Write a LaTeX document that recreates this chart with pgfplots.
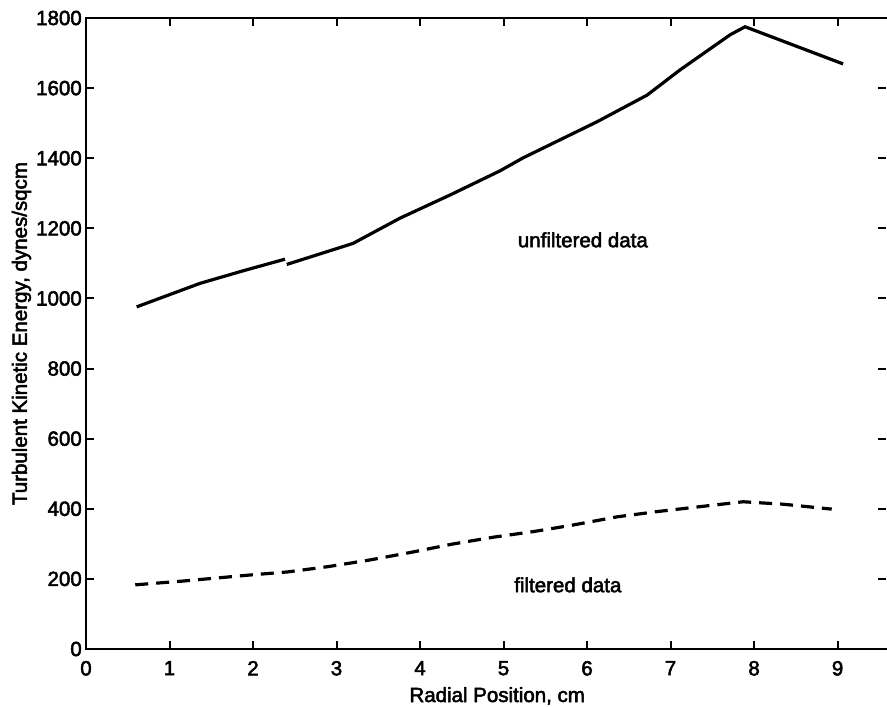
\documentclass[border=0pt]{standalone}
\usepackage{fontspec}
\setmainfont{Liberation Sans}
\newfontfamily\heavy{Liberation Sans}[FakeBold=2.5]
\usepackage{pgfplots}
\pgfplotsset{compat=1.18}
\begin{document}
\begin{tikzpicture}
\begin{axis}[
  name=ax,
  scale only axis,
  width=400bp, height=315.5bp,
  xmin=0, xmax=9.58, ymin=0, ymax=1800,
  xtick={0,1,...,9}, ytick={0,200,...,1800},
  tick align=inside,
  major tick length=4bp,
  tick style={line width=1bp, black},
  axis line style={draw=none},
  xtick pos=both, ytick pos=both,
  /pgf/number format/assume math mode=true,
  /pgf/number format/1000 sep={},
  ticklabel style={font=\heavy\fontsize{10.25bp}{12bp}\selectfont},
  xticklabel style={yshift=-2.5bp},
  yticklabel style={xshift=1.4bp},
  xlabel={Radial Position, cm},
  ylabel={Turbulent Kinetic Energy, dynes/sqcm},
  label style={font=\heavy\fontsize{10.25bp}{12bp}\selectfont},
  xlabel style={at={(rel axis cs:0.514,0)}, anchor=base, yshift=-26.5bp},
  ylabel style={at={(rel axis cs:-0.074,0.5)}, anchor=base, rotate=0},
  clip=false,
]
\draw[line width=1.3bp, line cap=rect] (rel axis cs:1,1) -- (rel axis cs:0,1) -- (rel axis cs:0,0) -- (rel axis cs:1,0);
\addplot[black, line width=1.6bp] coordinates {
(0.607,976) (1.365,1043) (1.884,1079) (2.383,1112)
};
\addplot[black, line width=1.6bp] coordinates {
(2.404,1097) (3.198,1157) (3.760,1229) (4.359,1295) (4.958,1364) (5.234,1401)
(6.120,1504) (6.719,1580) (7.114,1652) (7.713,1752) (7.892,1775) (9.066,1669)
};
\addplot[black, line width=1.6bp, dash pattern=on 6.5bp off 4bp] coordinates {
(0.59,183) (1.17,194) (1.96,211) (2.42,220) (2.90,235) (3.40,254) (3.90,276)
(4.38,299) (4.88,319) (5.36,335) (5.84,354) (6.36,377) (6.84,392) (7.35,406)
(7.87,420) (8.35,413) (8.93,399)
};
\node[font=\heavy\fontsize{10.25bp}{12bp}\selectfont] at (axis cs:5.95,1167) {unfiltered data};
\node[font=\heavy\fontsize{10.25bp}{12bp}\selectfont] at (axis cs:5.77,183) {filtered data};
\end{axis}
\pgfresetboundingbox
\path[use as bounding box] ([shift={(-43bp,-29bp)}]ax.south west) rectangle ([shift={(0.5bp,9bp)}]ax.north east);
\end{tikzpicture}
\end{document}
